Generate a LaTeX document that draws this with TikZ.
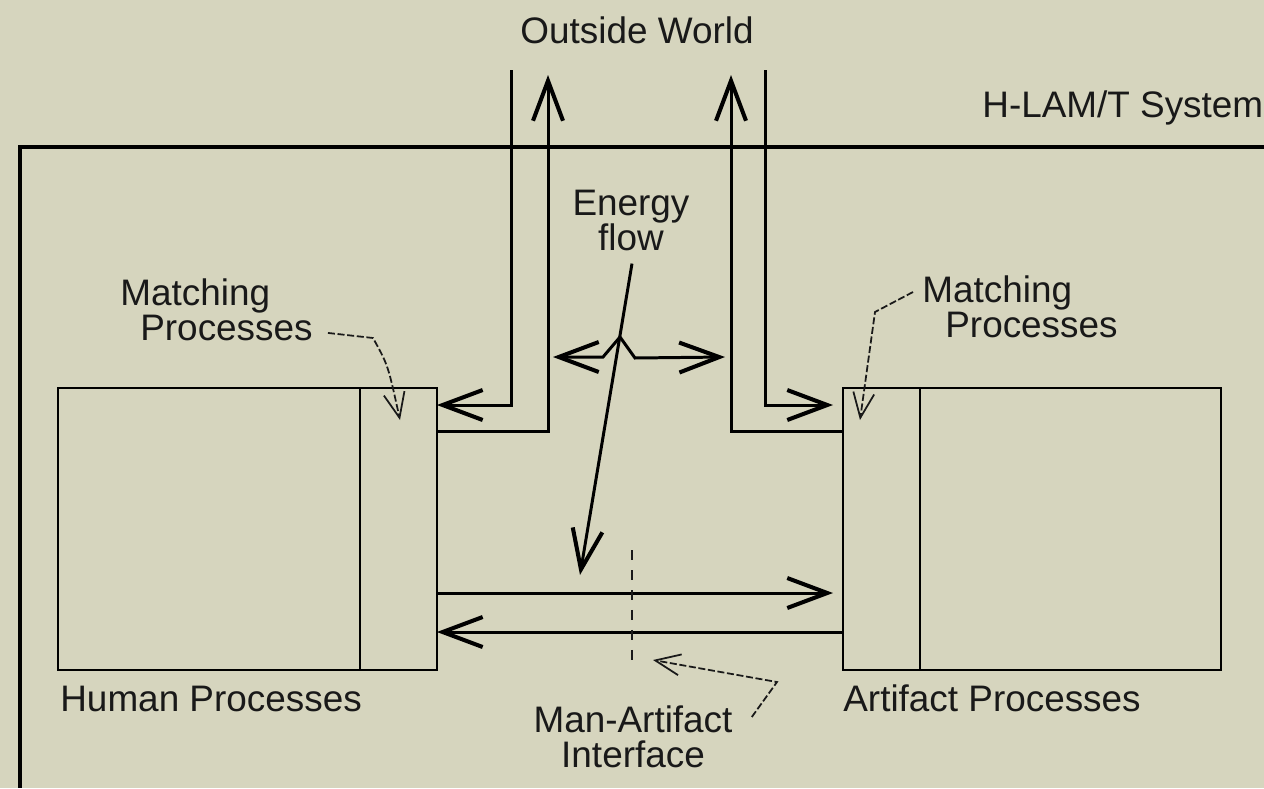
\documentclass[tikz,border=0pt]{standalone}
\usepackage{fontspec}
\setmainfont{Liberation Sans}
\usetikzlibrary{arrows.meta,positioning,calc}
\definecolor{hlpaper}{RGB}{214,213,190}
\definecolor{hlink}{RGB}{25,25,25}

\begin{document}
\begin{tikzpicture}[
  x=0.02cm,y=-0.02cm,
  >=Latex,
  pipe/.style={draw=black,line width=1.7pt},
  flow/.style={pipe,-{Straight Barb[length=0.8cm,width=0.6cm,line width=2.3pt]}},
  pointer/.style={draw=hlink,line width=1pt,dash pattern=on 4pt off 1.5pt,
    -{Straight Barb[length=0.5cm,width=0.42cm,line width=1pt]}},
  procbox/.style={draw=black,line width=1.1pt,inner sep=0pt,outer sep=0pt,
    minimum height=5.64cm,anchor=north west},
  txt/.style={font=\fontsize{21}{20}\selectfont,inner sep=0pt,text=hlink}
]
\useasboundingbox (0,0) rectangle (1264,788);
\fill[hlpaper] (0,0) rectangle (1264,788);
\draw[line width=2pt] (1264,147) -| (20,788);

\node[txt,anchor=base] (world) at (637,43) {Outside World};
\node[txt,anchor=base west] (system) at (982,117) {H-LAM/T System};

\node[procbox,minimum width=6.04cm] (human) at (58,388) {};
\node[procbox,minimum width=1.54cm] (humanmatch) at (human.north east) {};
\node[procbox,minimum width=1.54cm] (artmatch) at (843,388) {};
\node[procbox,minimum width=6.02cm] (artifact) at (artmatch.north east) {};

\node[txt,anchor=base west] (humanlbl) at (60,711) {Human Processes};
\node[txt,anchor=base west] (artifactlbl) at (843,711) {Artifact Processes};

\coordinate (worldinL) at (511,70);
\coordinate (worldoutL) at (548,75);
\coordinate (worldoutR) at (731,75);
\coordinate (worldinR) at (765,70);

\draw[flow] (worldinL) |- ($(humanmatch.north east)+(0,17)$);
\draw[flow] ($(humanmatch.north east)+(0,43)$) -| (worldoutL);
\draw[flow] ($(artmatch.north west)+(0,43)$) -| (worldoutR);
\draw[flow,shorten >=0.2cm] (worldinR) |- ($(artmatch.north west)+(0,17)$);

\draw[flow,shorten >=0.2cm] ($(humanmatch.north east)+(0,205)$) -- ($(artmatch.north west)+(0,205)$);
\draw[flow] ($(artmatch.north west)+(0,244)$) -- ($(humanmatch.north east)+(0,244)$);

\node[txt,align=center,anchor=north] (energy) at (631,190) {Energy\\flow};
\coordinate (fork) at (620,337);
\coordinate (energyend) at (580,575);
\coordinate (energyleft) at (553,357);
\coordinate (energyright) at (725,357);
\draw[flow] ($(energy.south)+(1,12)$) -- (energyend);
\draw[flow] (fork) -- ++(-17,20) -- (energyleft);
\draw[flow] (fork) -- ++(15,21) -- (energyright);

\coordinate (ifacetop) at (632,550);
\coordinate (ifacebot) at (632,667);
\draw[draw=hlink,line width=1.1pt,dash pattern=on 0.2cm off 0.2cm] (ifacetop) -- (ifacebot);

\node[txt,align=center,anchor=north] (iface) at (633,705) {Man-Artifact\\Interface};
\coordinate (ifacebend) at (777,682);
\coordinate (ifacetip) at (653,660);
\draw[pointer] ($(iface.north east)+(19,12)$) -- (ifacebend) -- (ifacetip);

\node[txt,align=left,anchor=north west] (hmatchlbl) at (120,278) {Matching\\\hspace*{0.4cm}Processes};
\coordinate (hmatchbend) at (373,338);
\coordinate (hmatchtip) at (400,420);
\draw[pointer] ($(hmatchlbl.south east)+(15,-8)$) -- (hmatchbend) .. controls (388,365) .. (hmatchtip);

\node[txt,align=left,anchor=north west] (amatchlbl) at (922,275) {Matching\\\hspace*{0.46cm}Processes};
\coordinate (amatchbend) at (875,312);
\coordinate (amatchtip) at (860,420);
\draw[pointer] ($(amatchlbl.north west)+(-9,17)$) -- (amatchbend) -- (amatchtip);
\end{tikzpicture}
\end{document}
